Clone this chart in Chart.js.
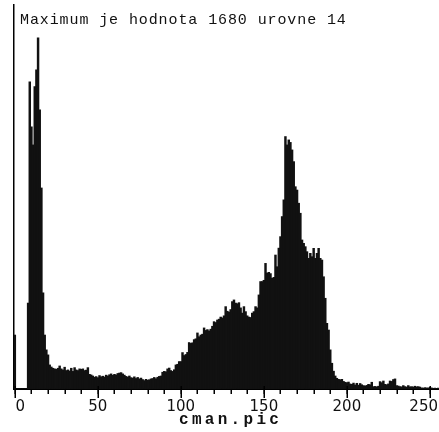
<!DOCTYPE html>
<html>
<head>
<meta charset="utf-8">
<title>cman.pic histogram</title>
<script src="https://cdn.jsdelivr.net/npm/chart.js@4/dist/chart.umd.min.js"></script>
<style>
  html, body { margin: 0; padding: 0; background: #fff; }
  #hist { display: block; }
</style>
</head>
<body>
<canvas id="hist" width="439" height="432"></canvas>
<script>
// gray levels 0..255 of cman.pic
const levels = Array.from({ length: 256 }, (_, i) => i);

// pixel count per gray level
const counts = [
  258, 0, 0, 0, 0, 0, 0, 0, 411, 1470, 1255, 1168, 1447, 1527, 1680, 1336,
  962, 460, 258, 187, 163, 115, 105, 99, 96, 94, 99, 110, 96, 91, 104, 88,
  91, 86, 99, 84, 102, 91, 88, 96, 94, 96, 88, 90, 102, 70, 67, 62,
  56, 59, 54, 64, 58, 61, 57, 66, 62, 68, 72, 65, 70, 67, 74, 76,
  78, 72, 66, 60, 57, 62, 54, 52, 58, 50, 55, 48, 52, 45, 40, 46,
  42, 44, 48, 50, 55, 49, 56, 60, 62, 80, 84, 82, 96, 100, 88, 84,
  92, 115, 118, 131, 131, 174, 160, 165, 175, 222, 218, 221, 236, 240, 268, 250,
  258, 262, 292, 280, 284, 278, 286, 300, 322, 318, 330, 334, 344, 340, 350, 394,
  372, 368, 380, 418, 426, 411, 408, 413, 388, 363, 394, 370, 350, 344, 342, 363,
  370, 394, 388, 450, 514, 514, 520, 601, 555, 558, 552, 530, 534, 641, 585, 674,
  729, 825, 905, 1208, 1168, 1192, 1180, 1144, 1088, 968, 952, 889, 841, 713, 697, 681,
  657, 625, 649, 633, 673, 625, 649, 673, 625, 617, 537, 434, 314, 282, 187, 123,
  85, 62, 51, 46, 44, 46, 36, 32, 30, 33, 24, 22, 28, 19, 27, 18,
  26, 20, 16, 14, 17, 22, 20, 32, 11, 12, 10, 13, 35, 30, 38, 22,
  20, 24, 38, 36, 45, 48, 16, 14, 11, 10, 16, 11, 9, 16, 10, 11,
  9, 13, 10, 11, 9, 5, 4, 6, 5, 4, 8, 5, 3, 4, 3, 4
];

const majorTicks = [0, 50, 100, 150, 200, 250];
const minorTicks = [0, 10, 20, 30, 40, 50, 60, 70, 80, 90, 100, 110, 120,
  130, 140, 150, 160, 170, 180, 190, 200, 210, 220, 230, 240, 250];

const fileName = "cman.pic";
const maxCount = Math.max(...counts);
const maxLevel = counts.indexOf(maxCount);
const heading = "Maximum je hodnota " + maxCount + " urovne " + maxLevel;

// axis ticks, tick labels, heading and file name
const decorations = {
  id: "decorations",
  afterDraw(chart) {
    const ctx = chart.ctx;
    const x = chart.scales.x;
    const area = chart.chartArea;
    const bottom = area.bottom;

    ctx.save();
    ctx.strokeStyle = "#000";
    ctx.lineWidth = 1.5;
    minorTicks.forEach(v => {
      const px = Math.round(x.getPixelForValue(v)) + 0.25;
      ctx.beginPath();
      ctx.moveTo(px, bottom);
      ctx.lineTo(px, bottom + 5);
      ctx.stroke();
    });
    majorTicks.forEach(v => {
      const px = Math.round(x.getPixelForValue(v)) + 0.25;
      ctx.beginPath();
      ctx.moveTo(px, bottom - 3);
      ctx.lineTo(px, bottom + 9);
      ctx.stroke();
    });

    ctx.fillStyle = "#111";
    ctx.font = "15px 'DejaVu Sans'";
    ctx.textAlign = "center";
    ctx.textBaseline = "alphabetic";
    majorTicks.forEach(v => {
      const text = String(v);
      const w = ctx.measureText(text).width;
      let px = x.getPixelForValue(v);
      px = Math.max(px, area.left + w / 2 + 1.5);
      px = Math.min(px, chart.width - 1 - w / 2);
      ctx.fillText(text, px, 411);
    });

    ctx.textAlign = "left";
    ctx.font = "15px 'Liberation Mono'";
    ctx.letterSpacing = "0.9px";
    ctx.fillText(heading, 20, 24);

    ctx.font = "bold 16px 'Liberation Mono'";
    ctx.letterSpacing = "3.3px";
    ctx.fillText(fileName, 179, 424);
    ctx.restore();
  }
};

new Chart(document.getElementById("hist"), {
  type: "bar",
  data: {
    labels: levels,
    datasets: [
      {
        label: fileName,
        data: counts,
        backgroundColor: "#111",
        borderWidth: 0,
        barPercentage: 1,
        categoryPercentage: 1,
        inflateAmount: 0.4,
      },
    ],
  },
  options: {
    responsive: false,
    animation: false,
    layout: {
      padding: { left: 14, right: 0, top: 5, bottom: 43 },
    },
    plugins: {
      legend: { display: false },
      tooltip: { enabled: false },
      title: { display: false },
    },
    scales: {
      x: {
        type: "category",
        offset: true,
        grid: { display: false, drawTicks: false },
        ticks: { display: false },
        border: { display: true, color: "#000", width: 2 },
      },
      y: {
        min: 0,
        max: 1838,
        grid: { display: false, drawTicks: false },
        ticks: { display: false },
        border: { display: true, color: "#000", width: 1.5 },
      },
    },
  },
  plugins: [decorations],
});
</script>
</body>
</html>
